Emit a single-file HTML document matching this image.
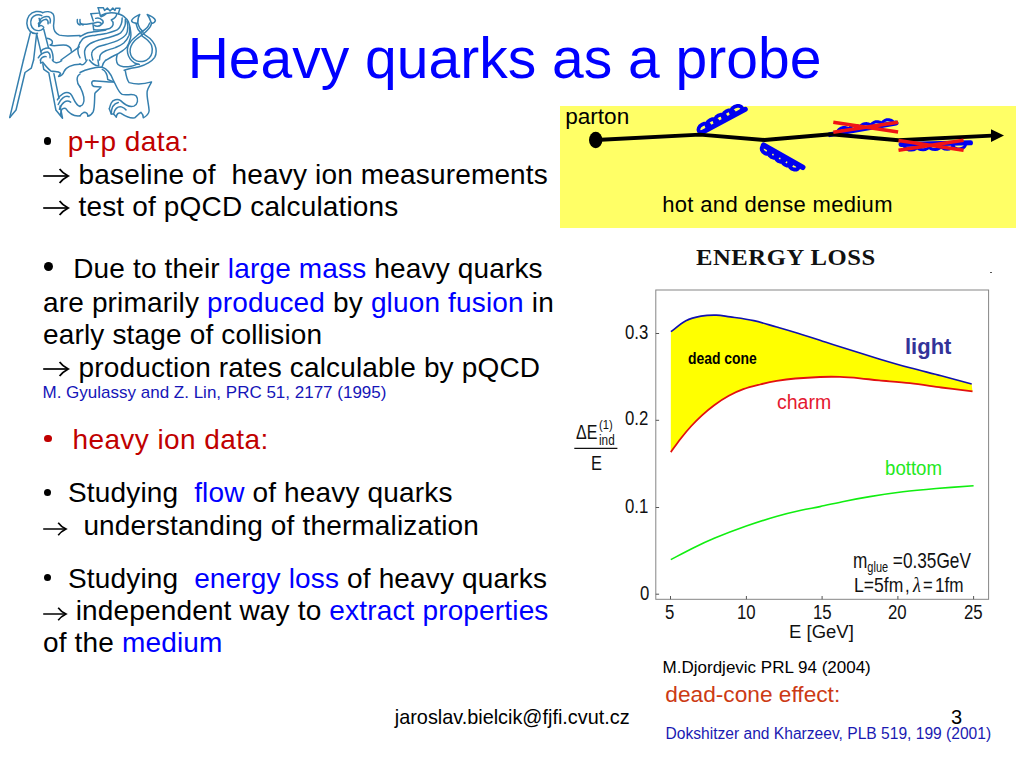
<!DOCTYPE html>
<html><head><meta charset="utf-8">
<style>
html,body{margin:0;padding:0;}
body{width:1024px;height:768px;background:#fff;position:relative;overflow:hidden;font-family:"Liberation Sans",sans-serif;color:#000;}
.t{position:absolute;white-space:pre;line-height:1;}
.l{font-size:28px;left:43px;letter-spacing:0.16px;}
.b{color:#0000ff;}
.r{color:#c00000;}
.dot{position:absolute;border-radius:50%;background:#000;}
.a28{display:inline-block;width:27.6px;height:16px;vertical-align:-0.5px;overflow:visible;}
.a24{display:inline-block;width:23.7px;height:14px;vertical-align:-1px;overflow:visible;}
.p{position:absolute;white-space:pre;line-height:1;color:#111;transform-origin:0 0;}
svg{position:absolute;left:0;top:0;overflow:visible;}
svg.a28,svg.a24{position:static;}
</style></head><body>
<svg width="0" height="0"><defs>
<g id="arw28"><path d="M0.2 8H24.8" fill="none" stroke="#000" stroke-width="1.7"/><path d="M16.6 0.9Q19.4 4.8 25.2 8Q19.4 11.2 16.6 15.1" fill="none" stroke="#000" stroke-width="1.8" stroke-linejoin="miter"/></g>
<g id="arw24"><path d="M0.2 7H22.4" fill="none" stroke="#000" stroke-width="1.5"/><path d="M15.2 0.7Q17.8 4.4 23 7Q17.8 9.6 15.2 13.3" fill="none" stroke="#000" stroke-width="1.6" stroke-linejoin="miter"/></g>
</defs></svg>

<svg width="170" height="125" id="logo"><g fill="none" stroke="#357fae" stroke-width="19" stroke-linecap="round" stroke-linejoin="round"><g transform="translate(0,0) scale(0.078125)"><path d="M548 162 C500 135 420 140 372 200 C330 260 335 340 380 395 C410 425 450 435 480 425"/><path d="M535 200 C490 175 430 190 405 235 C380 290 395 350 440 380 C480 400 530 395 555 365"/><path d="M548 162 C590 145 650 145 680 180 C705 215 690 270 685 330 C685 390 710 430 760 450 C830 470 940 455 1024 455"/><path d="M505 265 C530 225 580 200 625 215 C645 235 650 265 640 295"/><path d="M495 330 C510 290 545 250 590 245 C610 255 620 280 615 305"/><path d="M495 340 C520 320 545 325 560 350"/><path d="M500 235 L515 270 L492 300 L500 330"/><path d="M470 440 L530 690"/><path d="M560 375 L620 610"/><path d="M388 420 L300 768"/><path d="M468 440 L430 768"/><path d="M600 490 C640 495 680 520 670 550 C665 570 650 575 640 575"/><path d="M650 580 C720 600 790 560 850 580 C890 595 915 625 912 655"/><path d="M1015 600 L780 768"/><path d="M520 660 C550 620 620 600 650 630 C675 670 680 720 680 768"/><path d="M490 740 C510 700 560 660 610 665 C635 680 645 710 640 740"/><path d="M515 768 C530 740 560 720 590 725"/><path d="M990 250 C985 290 1000 315 1024 320"/><path d="M1024 545 C990 600 985 680 1024 740"/></g><g transform="translate(80,0) scale(0.078125)"><path d="M232 98 L298 98 L315 135 L350 102 L385 140 L420 102 L447 135 L457 105 L512 105 L490 175"/><path d="M232 98 L262 205"/><path d="M262 200 C330 160 420 155 490 175"/><path d="M268 215 C290 205 310 195 330 180"/><path d="M140 175 L240 168"/><path d="M140 175 L170 270"/><path d="M165 300 L175 380"/><path d="M175 380 C240 385 330 385 380 365 C430 340 440 290 400 255 C430 240 465 225 470 180"/><path d="M200 235 C230 225 265 235 285 260"/><path d="M290 262 C300 280 295 300 280 310"/><path d="M0 305 C60 325 140 305 220 285 C260 278 285 300 265 322 C245 340 200 338 185 325"/><path d="M0 250 C-5 290 10 315 40 320"/><path d="M0 470 C16 461 58 432 100 420 C141 408 211 403 250 398 C288 392 316 387 330 385"/><path d="M0 545 C10 534 26 495 60 480 C93 464 155 458 200 450 C245 441 283 441 330 430 C376 418 446 401 480 380 C513 358 520 325 530 300 C540 275 538 241 540 230"/><path d="M75 768 C72 748 52 683 60 650 C67 616 88 588 120 565 C151 541 203 525 250 510 C296 494 355 485 400 470 C445 455 490 443 520 420 C549 396 565 358 575 330 C585 301 579 263 580 250"/><path d="M165 768 C162 753 142 706 150 680 C157 653 180 628 210 610 C240 591 285 585 330 570 C375 555 436 541 480 520 C523 498 568 470 590 440 C612 410 610 368 612 340 C613 311 602 281 600 270"/><path d="M250 768 C252 756 248 719 262 700 C275 680 298 665 330 650 C361 635 411 626 450 610 C488 593 530 576 560 550 C589 523 615 483 628 450 C640 416 633 366 635 350"/><path d="M340 768 C353 760 393 734 420 720 C446 705 470 700 500 680 C530 660 575 633 600 600 C624 566 640 513 648 480 C656 446 652 433 648 400 C643 366 634 311 620 280 C605 248 581 227 560 210 C538 192 501 180 490 175"/><path d="M740 300 C700 295 660 290 660 265 C670 230 720 210 765 185 C742 220 738 260 740 300"/><path d="M860 185 C900 200 950 220 965 260 C960 290 935 297 915 300 C902 260 890 220 860 185"/></g><g transform="translate(0,60) scale(0.078125)"><path d="M300 0 L125 735"/><path d="M430 0 L400 105 L320 160 L205 640 L125 735"/><path d="M520 0 L520 40 L548 30"/><path d="M548 50 L560 120 L625 165 L715 640 L800 745 L770 590"/><path d="M690 175 L755 490"/><path d="M548 30 C580 70 610 110 650 140 C700 155 745 140 775 170 L750 210 C790 200 810 180 818 150 C840 95 920 55 1024 55"/><path d="M670 0 C685 40 740 50 790 10"/><path d="M1024 180 C975 200 975 290 1024 345"/><path d="M735 510 C770 440 840 395 900 430 C945 470 950 570 1024 595"/><path d="M745 570 C775 495 830 450 885 470"/><path d="M760 630 C790 545 850 500 905 540"/><path d="M775 700 C775 640 800 605 840 620 C880 680 945 725 1024 715"/></g><g transform="translate(80,60) scale(0.078125)"><path d="M0 50 C30 70 60 60 90 0"/><path d="M120 0 C150 40 200 70 230 75"/><path d="M230 0 L240 75"/><path d="M330 0 C300 30 290 50 285 80"/><path d="M0 160 C80 120 180 95 280 90 C340 110 400 180 430 270"/><path d="M285 120 C330 140 350 180 355 250 L430 280"/><path d="M430 280 C380 290 250 270 180 265 C140 270 140 320 180 340 L270 345 C250 380 200 400 190 430 C185 500 190 600 170 660 C150 700 120 715 100 720 C100 690 80 670 50 670 C30 680 10 700 0 715"/><path d="M0 340 C40 420 70 500 40 560 C30 580 10 590 0 590"/><path d="M430 270 C470 330 480 400 540 440 C600 460 680 420 720 460 C750 500 740 570 690 590 C620 610 560 560 520 520 C480 490 420 510 400 550 C385 580 380 610 375 625"/><path d="M400 690 C400 620 430 560 490 545"/><path d="M430 690 C440 630 480 590 530 600 C560 610 580 625 590 640"/><path d="M465 730 C470 690 490 670 520 680 C580 720 640 750 700 740 C730 720 750 690 780 670 C800 690 810 720 810 740 C850 720 880 690 885 650 C880 560 850 470 860 400 C870 350 900 320 915 280 C820 310 700 310 630 290 C600 260 590 200 580 140"/><path d="M375 625 L400 690 L430 690 L465 730"/></g><g stroke-width="1.48"><path d="M137.8 23.4 C138.1 24.2 139.0 26.8 139.8 28.1 C140.6 29.4 141.8 30.3 142.5 31.2 C143.2 32.2 142.5 32.7 143.8 33.9 C145.0 35.1 148.2 36.8 150.0 38.6 C151.8 40.4 153.7 42.7 154.7 44.8 C155.7 46.9 156.2 49.0 156.2 51.1 C156.2 53.2 156.0 55.3 154.7 57.3 C153.4 59.2 151.0 61.2 148.4 62.8 C145.8 64.4 142.0 65.8 139.1 66.7 C136.2 67.6 133.7 67.7 131.2 68.3 C128.8 68.9 125.4 69.9 124.2 70.2"/><path d="M136.1 23.8 C136.4 24.7 137.2 27.8 138.0 29.3 C138.8 30.8 140.2 31.7 140.9 32.8 C141.6 33.9 141.1 34.7 142.2 35.9 C143.3 37.1 146.1 38.6 147.7 40.2 C149.3 41.8 150.9 43.5 151.6 45.6 C152.3 47.7 152.4 50.6 152.0 52.7 C151.6 54.8 150.6 56.7 149.2 58.1 C147.8 59.5 145.8 60.8 143.8 61.2 C141.7 61.7 138.7 61.6 136.7 60.9 C134.7 60.2 133.1 58.8 132.0 57.3 C130.9 55.8 130.3 53.7 130.1 51.9 C129.9 50.1 130.2 48.2 130.9 46.4 C131.6 44.6 132.8 42.6 134.4 40.9 C136.0 39.2 138.6 37.6 140.6 36.0 C142.6 34.4 144.8 32.8 146.4 31.2 C148.0 29.7 149.5 27.9 150.3 26.6 C151.2 25.3 151.3 23.9 151.5 23.4"/><path d="M149.7 23.0 C149.3 23.7 148.5 25.8 147.6 27.0 C146.7 28.2 145.3 29.1 144.1 30.1 C142.9 31.1 141.5 31.9 140.2 32.9 C138.9 33.9 138.0 34.7 136.5 36.0 C135.0 37.3 132.7 39.0 131.2 40.9 C129.8 42.8 128.3 45.1 127.7 47.2 C127.1 49.3 127.3 51.5 127.7 53.4 C128.1 55.3 129.0 57.3 130.1 58.9 C131.2 60.5 132.9 61.9 134.4 62.8 C135.9 63.7 138.3 64.1 139.1 64.4"/><path d="M117.2 54.2 C117.1 55.1 116.3 58.0 116.4 59.7 C116.5 61.4 116.8 63.2 118.0 64.4 C119.2 65.6 121.2 66.4 123.4 66.7 C125.6 67.0 129.0 66.7 131.2 66.3 C133.5 65.9 135.4 64.7 136.7 64.4 C138.0 64.1 138.7 64.4 139.1 64.4"/></g></g></svg>

<div class="t b" id="title" style="left:187.7px;top:30.2px;font-size:57px;">Heavy quarks as a probe</div>

<div class="dot" style="left:43.7px;top:137.3px;width:7.8px;height:7.8px;"></div>
<div class="t l r" id="l1" style="left:67.7px;top:128.1px;letter-spacing:0.45px;">p+p data<span>:</span></div>
<div class="t l" id="l2" style="top:160.8px;"><svg class="a28"><use href="#arw28"/></svg> baseline of  heavy ion measurements</div>
<div class="t l" id="l3" style="top:192.8px;"><svg class="a28"><use href="#arw28"/></svg> test of pQCD calculations</div>

<div class="dot" style="left:43.6px;top:262.2px;width:9.3px;height:9.3px;"></div>
<div class="t l" id="l4" style="left:73.2px;top:255.2px;">Due to their <span class="b">large mass</span> heavy quarks</div>
<div class="t l" id="l5" style="top:288.5px;">are primarily <span class="b">produced</span> by <span class="b">gluon fusion</span> in</div>
<div class="t l" id="l6" style="top:321.3px;">early stage of collision</div>
<div class="t l" id="l7" style="top:353.7px;"><svg class="a28"><use href="#arw28"/></svg> production rates calculable by pQCD</div>
<div class="t" id="l8" style="left:42.5px;top:384.4px;font-size:17px;color:#1515b8;">M. Gyulassy and Z. Lin, PRC 51, 2177 (1995)</div>

<div class="dot" style="left:44px;top:434.9px;width:7.6px;height:7.6px;background:#c00000;"></div>
<div class="t l r" id="l9" style="left:72.4px;top:426.1px;letter-spacing:0.42px;">heavy ion data<span>:</span></div>
<div class="dot" style="left:43.9px;top:488.5px;width:7.2px;height:7.2px;"></div>
<div class="t l" id="l10" style="left:68px;top:478.5px;">Studying  <span class="b">flow</span> of heavy quarks</div>
<div class="t l" id="l11" style="top:511.6px;"><svg class="a24"><use href="#arw24"/></svg>  <span style="margin-left:0.8px"></span>understanding of thermalization</div>
<div class="dot" style="left:44.2px;top:574px;width:7.2px;height:7.2px;"></div>
<div class="t l" id="l12" style="left:68px;top:564.6px;">Studying  <span class="b">energy loss</span> of heavy quarks</div>
<div class="t l" id="l13" style="top:596.7px;"><svg class="a24"><use href="#arw24"/></svg> <span style="margin-left:1px"></span>independent way to <span class="b">extract properties</span></div>
<div class="t l" id="l14" style="top:629.0px;">of the <span class="b">medium</span></div>

<div class="t" id="foot" style="left:394.8px;top:707.6px;font-size:19.85px;">jaroslav.bielcik@fjfi.cvut.cz</div>
<div class="t" id="pg" style="left:951px;top:707px;font-size:20px;">3</div>

<div id="ybox" style="position:absolute;left:560px;top:105.6px;width:456px;height:122px;background:#ffff66;"></div>
<div class="t" id="parton" style="left:565.2px;top:105.5px;font-size:22.6px;">parton</div>
<div class="t" id="hot" style="left:662.2px;top:194.1px;font-size:22px;letter-spacing:0.34px;">hot and dense medium</div>
<svg width="1024" height="768" id="diag">
 <path d="M701.0 132.0 L699.9 132.1 L698.9 131.4 L698.4 129.9 L698.8 127.9 L700.0 125.9 L702.1 124.4 L704.5 123.5 L706.9 123.5 L708.7 124.3 L709.7 125.5 L709.8 126.8 L709.1 127.6 L708.0 127.7 L707.0 127.0 L706.5 125.5 L706.9 123.5 L708.1 121.5 L710.2 120.0 L712.6 119.1 L715.0 119.1 L716.8 119.9 L717.8 121.1 L717.9 122.4 L717.2 123.2 L716.1 123.3 L715.1 122.6 L714.6 121.1 L715.0 119.1 L716.2 117.1 L718.3 115.6 L720.7 114.7 L723.1 114.7 L724.9 115.5 L725.9 116.7 L726.0 118.0 L725.3 118.8 L724.2 118.9 L723.2 118.2 L722.7 116.7 L723.1 114.7 L724.3 112.7 L726.4 111.2 L728.8 110.3 L731.2 110.3 L733.0 111.1 L734.0 112.3 L734.1 113.6 L733.4 114.4 L732.3 114.5 L731.3 113.8 L730.8 112.3 L731.2 110.3 L732.4 108.3 L734.5 106.8 L736.9 105.9 L739.3 105.9 L741.1 106.7 L742.1 107.9 L742.2 109.2 L741.5 110.0" fill="none" stroke="#0000f0" stroke-width="3.7" stroke-linecap="round" stroke-linejoin="round"/>
 <path d="M700.5 133.4L745.3 109.3" stroke="#0000f0" stroke-width="5" stroke-linecap="round"/>
 <path d="M764.0 146.5 L763.0 146.4 L762.1 147.0 L761.7 148.3 L761.9 150.0 L763.0 151.7 L764.7 153.1 L766.8 153.9 L768.9 154.0 L770.5 153.3 L771.3 152.3 L771.4 151.2 L770.8 150.4 L769.8 150.3 L768.9 150.9 L768.5 152.2 L768.7 153.9 L769.8 155.6 L771.5 157.0 L773.6 157.8 L775.7 157.9 L777.3 157.2 L778.1 156.2 L778.2 155.1 L777.6 154.3 L776.6 154.2 L775.7 154.8 L775.3 156.1 L775.5 157.8 L776.6 159.5 L778.3 160.9 L780.4 161.7 L782.5 161.8 L784.1 161.1 L784.9 160.1 L785.0 159.0 L784.4 158.2 L783.4 158.1 L782.5 158.7 L782.1 160.0 L782.3 161.7 L783.4 163.4 L785.1 164.8 L787.2 165.6 L789.3 165.7 L790.9 165.0 L791.7 164.0 L791.8 162.9 L791.2 162.1 L790.2 162.0 L789.3 162.6 L788.9 163.9 L789.1 165.6 L790.2 167.3 L791.9 168.7 L794.0 169.5 L796.1 169.6 L797.7 168.9 L798.5 167.9 L798.6 166.8 L798.0 166.0" fill="none" stroke="#0000f0" stroke-width="3.9" stroke-linecap="round" stroke-linejoin="round"/>
 <path d="M763.5 145.2L802.8 167.3" stroke="#0000f0" stroke-width="5.4" stroke-linecap="round"/>
 <path d="M838.0 132.3 L837.8 132.1 L837.8 131.4 L838.3 130.3 L839.3 129.2 L840.9 128.2 L842.8 127.6 L844.9 127.5 L846.7 127.9 L848.1 128.6 L848.9 129.4 L849.1 130.1 L849.0 130.4 L848.8 130.1 L848.8 129.4 L849.3 128.4 L850.3 127.2 L851.9 126.2 L853.8 125.6 L855.9 125.5 L857.7 125.9 L859.1 126.7 L859.9 127.5 L860.1 128.1 L860.0 128.4 L859.8 128.2 L859.8 127.5 L860.3 126.4 L861.3 125.3 L862.9 124.3 L864.8 123.7 L866.9 123.6 L868.7 124.0 L870.1 124.7 L870.9 125.5 L871.1 126.2 L871.0 126.5 L870.8 126.3 L870.8 125.5 L871.3 124.5 L872.3 123.4 L873.9 122.4 L875.8 121.8 L877.9 121.7 L879.7 122.1 L881.1 122.8 L881.9 123.6 L882.1 124.3 L882.0 124.5 L881.8 124.3 L881.8 123.6 L882.3 122.6 L883.3 121.4 L884.9 120.4 L886.8 119.8 L888.9 119.7 L890.7 120.1 L892.1 120.8 L892.9 121.7 L893.1 122.3 L893.0 122.6" fill="none" stroke="#0000f0" stroke-width="3" stroke-linecap="round" stroke-linejoin="round"/>
 <path d="M830 134.6L896 123" stroke="#0000f0" stroke-width="5" stroke-linecap="round"/>
 <path d="M905.0 145.5 L904.6 145.8 L904.6 146.7 L905.3 147.9 L906.7 149.1 L908.7 149.9 L911.1 150.1 L913.5 149.8 L915.5 148.8 L916.8 147.6 L917.4 146.4 L917.4 145.5 L917.0 145.2 L916.6 145.5 L916.6 146.4 L917.3 147.6 L918.7 148.8 L920.7 149.6 L923.1 149.8 L925.5 149.5 L927.5 148.5 L928.8 147.3 L929.4 146.1 L929.4 145.2 L929.0 144.9 L928.6 145.2 L928.6 146.1 L929.3 147.3 L930.7 148.5 L932.7 149.3 L935.1 149.5 L937.5 149.2 L939.5 148.2 L940.8 147.0 L941.4 145.8 L941.4 144.9 L941.0 144.6 L940.6 144.9 L940.6 145.8 L941.3 147.0 L942.7 148.2 L944.7 149.0 L947.1 149.2 L949.5 148.9 L951.5 147.9 L952.8 146.7 L953.4 145.5 L953.4 144.6 L953.0 144.3 L952.6 144.6 L952.6 145.5 L953.3 146.7 L954.7 147.9 L956.7 148.7 L959.1 148.9 L961.5 148.6 L963.5 147.6 L964.8 146.4 L965.4 145.2 L965.4 144.3 L965.0 144.0" fill="none" stroke="#0000f0" stroke-width="3" stroke-linecap="round" stroke-linejoin="round"/>
 <path d="M901 144.5L970.5 142.7" stroke="#0000f0" stroke-width="5" stroke-linecap="round"/>
 <ellipse cx="595.7" cy="140" rx="6.7" ry="8.2" fill="#000"/>
 <path d="M596 140L700 134.6L764.5 140L831 134.3L898.5 140.3L992 135.6" fill="none" stroke="#000" stroke-width="3.9" stroke-linejoin="round"/>
 <path d="M1004 135.6L991 129.2L991 141.9Z" fill="#000"/>
 <path d="M833.3 122.2L898.1 132M833.3 132.3L898.1 122.2" stroke="#f01414" stroke-width="3.5"/>
 <path d="M898.5 140.5L963.6 150.3M898.5 150.3L963.6 140.2" stroke="#f01414" stroke-width="3.5"/>
</svg>

<div class="t" id="eloss" style="left:696.3px;top:246.4px;font-size:23.4px;letter-spacing:0.5px;transform:scaleX(1.055);transform-origin:0 0;font-family:'Liberation Serif',serif;font-weight:bold;color:#111;">ENERGY LOSS</div>
<div style="position:absolute;left:990px;top:272px;width:2px;height:1px;background:#555;"></div>

<svg width="1024" height="768" id="plot">
 <path d="M670.9 331.7 C673.4 329.9 680.9 323.3 685.9 320.7 C690.9 318.1 696.0 317.0 701.0 316.1 C706.0 315.2 711.3 315.0 716.2 315.1 C721.1 315.2 724.0 316.0 730.3 316.9 C736.6 317.8 746.1 318.9 753.8 320.6 C761.5 322.3 768.7 324.8 776.7 327.1 C784.7 329.4 794.5 332.2 801.7 334.4 C808.9 336.6 813.6 338.1 820.0 340.2 C826.4 342.3 830.1 343.7 840.0 346.8 C849.9 349.9 867.4 355.4 879.1 358.9 C890.8 362.4 899.6 365.0 910.0 367.8 C920.4 370.6 931.0 373.1 941.2 375.8 C951.5 378.5 966.6 382.6 971.7 384.0L972.5 391.4 C967.3 390.8 951.7 388.9 941.2 387.5 C930.8 386.1 920.4 384.4 910.0 383.2 C899.6 382.0 887.4 381.2 879.1 380.4 C870.8 379.6 866.5 378.9 860.0 378.3 C853.5 377.7 846.7 377.1 840.0 376.9 C833.3 376.7 827.4 376.7 820.0 377.0 C812.6 377.3 802.6 377.9 795.4 378.5 C788.2 379.1 782.6 379.9 776.7 380.9 C770.8 381.9 765.6 383.1 760.0 384.5 C754.4 385.9 748.5 387.3 743.3 389.2 C738.1 391.1 733.6 393.1 728.8 395.8 C723.9 398.5 718.7 401.9 714.2 405.2 C709.7 408.5 705.5 412.1 701.7 415.6 C697.9 419.1 694.8 422.2 691.3 426.0 C687.8 429.8 684.2 434.1 680.8 438.5 C677.4 442.9 672.5 449.8 670.8 452.1 Z" fill="#ffff00"/>
 <path d="M670.8 452.1 C672.5 449.8 677.4 442.9 680.8 438.5 C684.2 434.1 687.8 429.8 691.3 426.0 C694.8 422.2 697.9 419.1 701.7 415.6 C705.5 412.1 709.7 408.5 714.2 405.2 C718.7 401.9 723.9 398.5 728.8 395.8 C733.6 393.1 738.1 391.1 743.3 389.2 C748.5 387.3 754.4 385.9 760.0 384.5 C765.6 383.1 770.8 381.9 776.7 380.9 C782.6 379.9 788.2 379.1 795.4 378.5 C802.6 377.9 812.6 377.3 820.0 377.0 C827.4 376.7 833.3 376.7 840.0 376.9 C846.7 377.1 853.5 377.7 860.0 378.3 C866.5 378.9 870.8 379.6 879.1 380.4 C887.4 381.2 899.6 382.0 910.0 383.2 C920.4 384.4 930.8 386.1 941.2 387.5 C951.7 388.9 967.3 390.8 972.5 391.4" fill="none" stroke="#e21010" stroke-width="1.8"/>
 <path d="M670.9 331.7 C673.4 329.9 680.9 323.3 685.9 320.7 C690.9 318.1 696.0 317.0 701.0 316.1 C706.0 315.2 711.3 315.0 716.2 315.1 C721.1 315.2 724.0 316.0 730.3 316.9 C736.6 317.8 746.1 318.9 753.8 320.6 C761.5 322.3 768.7 324.8 776.7 327.1 C784.7 329.4 794.5 332.2 801.7 334.4 C808.9 336.6 813.6 338.1 820.0 340.2 C826.4 342.3 830.1 343.7 840.0 346.8 C849.9 349.9 867.4 355.4 879.1 358.9 C890.8 362.4 899.6 365.0 910.0 367.8 C920.4 370.6 931.0 373.1 941.2 375.8 C951.5 378.5 966.6 382.6 971.7 384.0" fill="none" stroke="#1010b0" stroke-width="1.6"/>
 <path d="M670.8 559.6 C674.5 557.7 685.9 551.6 693.2 548.0 C700.5 544.4 705.9 541.8 714.8 538.1 C723.6 534.5 736.1 529.7 746.3 526.1 C756.5 522.5 767.1 519.1 776.2 516.5 C785.3 513.9 793.8 511.9 801.1 510.3 C808.4 508.7 812.7 508.1 820.0 506.6 C827.3 505.1 836.6 502.9 844.9 501.2 C853.2 499.5 860.1 498.2 869.8 496.6 C879.5 495.0 891.9 493.2 903.0 491.8 C914.1 490.4 924.4 489.5 936.2 488.5 C948.0 487.5 967.4 486.2 973.6 485.7" fill="none" stroke="#10ee10" stroke-width="1.6"/>
 <rect x="655.8" y="290" width="332.8" height="309.3" fill="none" stroke="#858585" stroke-width="1"/>
 <path d="M655.8 333.5h3.3M655.8 420.3h3.3M655.8 507.5h3.3M655.8 594.2h3.3M670.5 599.3v-3.3M746.4 599.3v-3.3M822.1 599.3v-3.3M897.9 599.3v-3.3M973.6 599.3v-3.3" stroke="#555" stroke-width="1"/>
 <path d="M574.3 448.3H617.4" stroke="#111" stroke-width="1.2"/>
</svg>
<div class="p" id="y03" style="left:625px;top:323px;font-size:19.5px;transform:scaleX(0.86);">0.3</div>
<div class="p" id="y02" style="left:625px;top:409.2px;font-size:19.5px;transform:scaleX(0.86);">0.2</div>
<div class="p" id="y01" style="left:625px;top:497.3px;font-size:19.5px;transform:scaleX(0.86);">0.1</div>
<div class="p" id="y00" style="left:640px;top:584.2px;font-size:19.5px;transform:scaleX(0.86);">0</div>
<div class="p" id="x5" style="left:665.3px;top:603px;font-size:19.5px;transform:scaleX(0.86);">5</div>
<div class="p" id="x10" style="left:737px;top:603px;font-size:19.5px;transform:scaleX(0.86);">10</div>
<div class="p" id="x15" style="left:813px;top:603px;font-size:19.5px;transform:scaleX(0.86);">15</div>
<div class="p" id="x20" style="left:887.5px;top:603px;font-size:19.5px;transform:scaleX(0.86);">20</div>
<div class="p" id="x25" style="left:964px;top:603px;font-size:19.5px;transform:scaleX(0.86);">25</div>
<div class="p" id="xl" style="left:789px;top:622px;font-size:19.2px;transform:scaleX(0.965);">E [GeV]</div>
<div class="p" id="dcone" style="left:688.2px;top:350.2px;font-size:16.3px;font-weight:bold;color:#000;transform:scaleX(0.855);">dead cone</div>
<div class="p" id="light" style="left:905px;top:336.3px;font-size:22px;font-weight:bold;color:#333399;">light</div>
<div class="p" id="charm" style="left:777.1px;top:392.2px;font-size:20px;color:#e41830;transform:scaleX(0.975);">charm</div>
<div class="p" id="bottom" style="left:884.5px;top:458.3px;font-size:20.5px;color:#22e822;transform:scaleX(0.91);">bottom</div>
<div class="p" id="mg" style="left:853px;top:549.5px;font-size:22px;transform:scaleX(0.783);">m<span style="font-size:14px;vertical-align:-4px;">glue</span> =0.35GeV</div>
<div class="p" id="lf1" style="left:853.5px;top:574.6px;font-size:20.3px;transform:scaleX(0.865);">L=5fm</div>
<div class="p" id="lf2" style="left:904.8px;top:574.6px;font-size:20.3px;transform:scaleX(0.82);">,</div>
<div class="p" id="lf3" style="left:913.3px;top:574.6px;font-size:20.3px;transform:scaleX(0.9);font-family:'Liberation Serif',serif;font-style:italic;">λ</div>
<div class="p" id="lf4" style="left:923.3px;top:574.6px;font-size:20.3px;transform:scaleX(0.82);">=</div>
<div class="p" id="lf5" style="left:935px;top:574.6px;font-size:20.3px;transform:scaleX(0.845);">1fm</div>
<div class="p" id="dE" style="left:575.5px;top:422.8px;font-size:19.5px;transform:scaleX(0.82);">ΔE</div>
<div class="p" id="sup1" style="left:599px;top:418px;font-size:13px;transform:scaleX(0.86);">(1)</div>
<div class="p" id="ind" style="left:598.5px;top:433px;font-size:14px;transform:scaleX(0.84);">ind</div>
<div class="p" id="Ed" style="left:590.5px;top:452.8px;font-size:20px;transform:scaleX(0.82);">E</div>

<div class="t" id="dj" style="left:662.6px;top:659.1px;font-size:17px;">M.Djordjevic PRL 94 (2004)</div>
<div class="t" id="dc" style="left:665.3px;top:683.2px;font-size:22.7px;color:#cc3a14;">dead-cone effect:</div>
<div class="t" id="dk" style="left:665.5px;top:726.3px;font-size:15.6px;color:#1a1ab2;">Dokshitzer and Kharzeev, PLB 519, 199 (2001)</div>
</body></html>
